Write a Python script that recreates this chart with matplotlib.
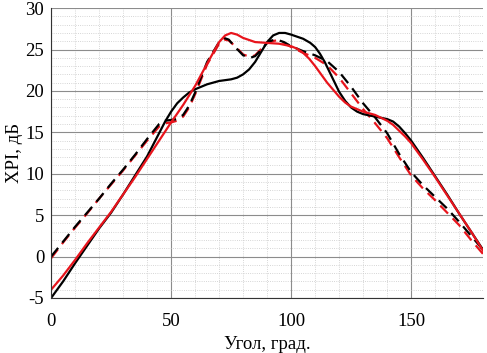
import numpy as np
import matplotlib
matplotlib.use('Agg')
import matplotlib.pyplot as plt
from matplotlib.ticker import MultipleLocator

plt.rcParams['font.family'] = ['Liberation Serif', 'DejaVu Serif']
plt.rcParams['axes.unicode_minus'] = False

# Black solid
ang_bs = [0, 5, 10, 15, 20, 25, 30, 35, 40, 45, 47.5, 50, 52.5, 55, 57.5, 60, 65, 70, 75, 77.5, 80,
          82.5, 85, 87.5, 90, 92.5, 95, 97.5, 100, 105, 108, 110, 112, 114, 117, 120, 122.5, 125,
          127.5, 130, 135, 140, 142.5, 145, 147.5, 150, 155, 160, 165, 170, 175, 180]
xpi_bs = [-5.0, -3.0, -0.8, 1.3, 3.4, 5.3, 7.5, 9.8, 12.1, 14.9, 16.3, 17.5, 18.5, 19.2, 19.8, 20.2,
          20.8, 21.2, 21.4, 21.6, 22.0, 22.6, 23.5, 24.7, 25.9, 26.7, 27.0, 27.0, 26.8, 26.3, 25.8,
          25.3, 24.5, 23.5, 21.7, 19.9, 18.8, 18.0, 17.5, 17.2, 16.9, 16.6, 16.3, 15.7, 14.9,
          14.0, 11.9, 9.7, 7.5, 5.2, 3.0, 0.8]

# Red solid
ang_rs = [0, 5, 10, 15, 20, 25, 30, 35, 40, 45, 50, 55, 60, 65, 70, 72.5, 75, 77.5, 80, 85, 90, 95,
          100, 102.5, 105, 107.5, 110, 115, 120, 122.5, 125, 127.5, 130, 135, 140, 142.5, 145,
          147.5, 150, 155, 160, 165, 170, 175, 180]
xpi_rs = [-4.0, -2.3, -0.4, 1.6, 3.5, 5.4, 7.5, 9.6, 11.8, 14.0, 16.2, 18.3, 20.6, 23.3, 25.9, 26.7,
          27.0, 26.8, 26.4, 25.9, 25.8, 25.7, 25.4, 25.1, 24.6, 23.9, 23.0, 21.0, 19.3, 18.6,
          18.1, 17.8, 17.5, 17.1, 16.4, 15.9, 15.2, 14.5, 13.7, 11.7, 9.6, 7.4, 5.2, 3.0, 0.7]

# Black dashed
ang_bd = [0, 5, 10, 15, 20, 25, 30, 35, 40, 45, 47.5, 50, 52.5, 55, 57.5, 60, 65, 70, 72, 74,
          77, 80, 83, 85, 87, 90, 92, 94, 97, 100, 105, 110, 115, 120, 125, 130, 135, 140, 145,
          150, 155, 160, 165, 170, 175, 180]
xpi_bd = [0.0, 1.8, 3.6, 5.3, 7.0, 8.8, 10.5, 12.3, 14.2, 16.0, 16.4, 16.5, 16.6, 17.1, 18.2, 19.8,
          23.5, 25.9, 26.4, 26.2, 25.2, 24.3, 24.0, 24.2, 24.8, 25.8, 26.1, 26.2, 25.9, 25.4,
          24.8, 24.3, 23.6, 22.3, 20.5, 18.5, 16.8, 14.9, 12.4, 10.2, 8.6, 7.2, 5.8, 4.2, 2.5, 0.8]

# Red dashed
ang_rd = [0, 5, 10, 15, 20, 25, 30, 35, 40, 45, 47.5, 50, 52.5, 55, 57.5, 60, 65, 70, 72, 74,
          77, 80, 83, 85, 87, 90, 92, 94, 97, 100, 105, 110, 115, 120, 125, 130, 135, 140, 145,
          150, 155, 160, 165, 170, 175, 180]
xpi_rd = [-0.2, 1.7, 3.5, 5.2, 7.0, 8.7, 10.4, 12.2, 14.0, 15.7, 16.1, 16.2, 16.4, 16.9, 18.0, 19.6,
          23.2, 25.7, 26.2, 26.1, 25.3, 24.4, 24.1, 24.3, 24.9, 25.8, 26.0, 26.1, 25.8, 25.3,
          24.6, 24.0, 23.1, 21.6, 19.7, 17.8, 16.1, 14.3, 12.0, 9.8, 8.2, 6.8, 5.3, 3.8, 2.0, 0.3]

fig = plt.figure(figsize=(4.87, 3.53), dpi=100)
ax = fig.add_axes([0.105, 0.156, 0.887, 0.821])

ax.plot(ang_rd, xpi_rd, color='#e8141c', lw=1.6, ls=(0, (5, 3)))
ax.plot(ang_bd, xpi_bd, color='black', lw=1.6, ls=(0, (5, 3)))
ax.plot(ang_bs, xpi_bs, color='black', lw=1.6)
ax.plot(ang_rs, xpi_rs, color='#e8141c', lw=1.6)

ax.set_xlim(0, 180)
ax.set_ylim(-5, 30)
ax.xaxis.set_major_locator(MultipleLocator(50))
ax.xaxis.set_minor_locator(MultipleLocator(10))
ax.yaxis.set_major_locator(MultipleLocator(5))
ax.yaxis.set_minor_locator(MultipleLocator(1))

ax.grid(True, which='major', color='#8c8c8c', lw=0.8)
ax.grid(True, which='minor', color='#c8c8c8', lw=0.6, ls=':')
ax.set_axisbelow(True)

ax.spines['top'].set_visible(False)
ax.spines['right'].set_visible(False)
ax.spines['left'].set_color('#333333')
ax.spines['bottom'].set_color('#333333')
ax.tick_params(which='both', length=0, labelsize=13.5)
ax.tick_params(axis='x', pad=11)
ax.tick_params(axis='y', pad=5)

ax.set_xlabel('Угол, град.', fontsize=13.5, labelpad=4)
ax.set_ylabel('XPI, дБ', fontsize=13.5, labelpad=2)

fig.savefig('out.png', dpi=100)
